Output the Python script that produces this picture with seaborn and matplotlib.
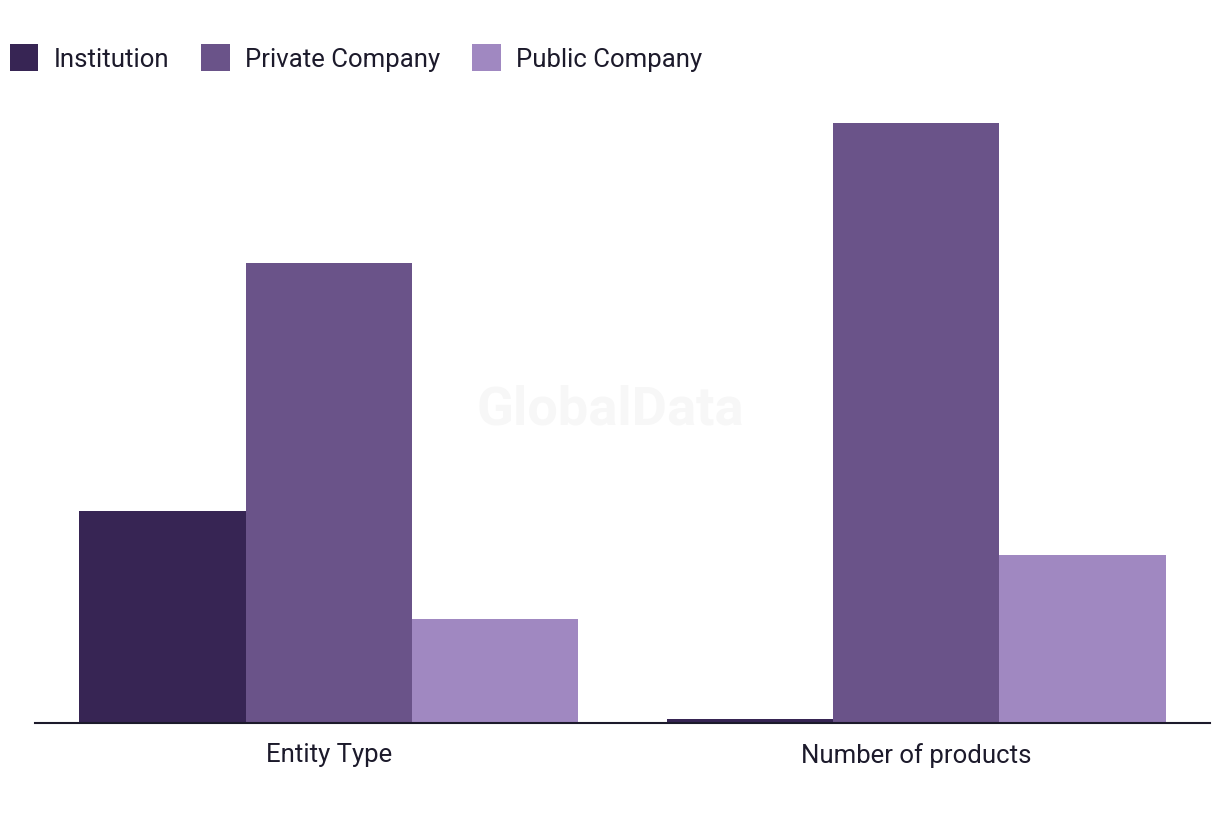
import pandas as pd
import seaborn as sns
import matplotlib.pyplot as plt
from matplotlib.patches import Patch

# values
categories = ["Entity Type", "Number of products"]
series = ["Institution", "Private Company", "Public Company"]
institution = [53, 1]
private_company = [115, 150]
public_company = [26, 42]

colors = ["#372554", "#6a5389", "#a088c1"]
text_color = "#1c1a2b"

df = pd.DataFrame({
    "category": categories * 3,
    "series": [s for s in series for _ in categories],
    "value": institution + private_company + public_company,
})

sns.set_style("white")
plt.rcParams["font.family"] = ["Roboto", "DejaVu Sans"]

fig = plt.figure(figsize=(12.2, 8.2), dpi=100)
W, H = 1220, 820
ax = fig.add_axes([35 / W, (H - 724) / H, (1210 - 35) / W, (724 - 100) / H])

sns.barplot(data=df, x="category", y="value", hue="series", order=categories,
            hue_order=series, palette=colors, width=0.85, saturation=1,
            linewidth=0, ax=ax, legend=False)

ax.set_xlim(-0.5, 1.5)
ax.set_ylim(0, 624 / 4)
ax.set_xlabel("")
ax.set_ylabel("")
ax.set_yticks([])
ax.tick_params(axis="x", length=0, pad=14, labelsize=18.5, labelcolor=text_color)
for side in ["top", "right", "left"]:
    ax.spines[side].set_visible(False)
ax.spines["bottom"].set_color(text_color)
ax.spines["bottom"].set_linewidth(1.5)

# watermark
fig.text(610 / W, 1 - 410 / H, "GlobalData", ha="center", va="center",
         fontsize=39, fontweight="bold", color="#f7f7f7", zorder=0)

handles = [Patch(facecolor=c, edgecolor="none") for c in colors]
fig.legend(handles, series, loc="upper left", bbox_to_anchor=(10 / W, 1 - 45 / H),
           ncol=3, frameon=False, fontsize=18.5, handlelength=1.1, handleheight=1.25,
           handletextpad=0.6, columnspacing=1.25, labelcolor=text_color,
           borderaxespad=0, borderpad=0)

fig.savefig("out.png", dpi=100)
